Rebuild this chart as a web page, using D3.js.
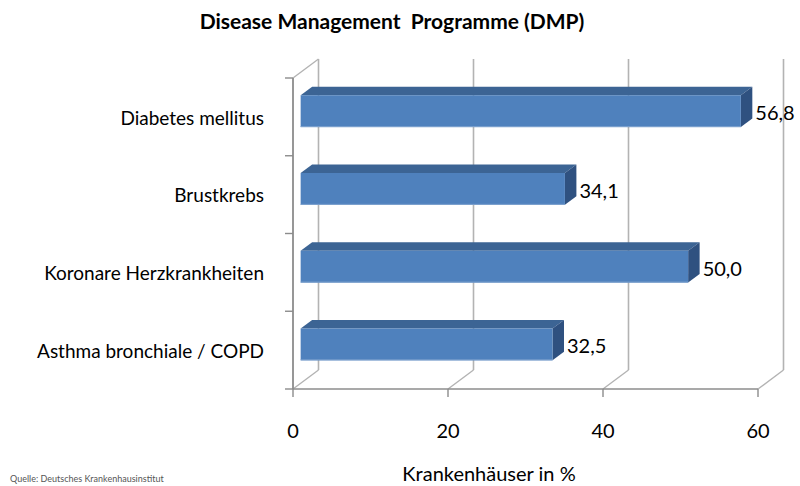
<!DOCTYPE html>
<html>
<head>
<meta charset="utf-8">
<script src="https://cdn.jsdelivr.net/npm/d3@7"></script>
<style>
  html, body { margin: 0; padding: 0; background: #fff; }
  #chart { width: 800px; height: 486px; }
</style>
</head>
<body>
<div id="chart"></div>
<script>
const categories = ["Diabetes mellitus", "Brustkrebs", "Koronare Herzkrankheiten", "Asthma bronchiale / COPD"];
const values = [56.8, 34.1, 50.0, 32.5];
const valueLabels = ["56,8", "34,1", "50,0", "32,5"];
const xTicks = [0, 20, 40, 60];

const width = 800, height = 486;
const font = "Lato, 'Open Sans', sans-serif";

const colors = {
  front: "#4f81bd",
  top: "#3c6494",
  side: "#2f5180",
  grid: "#b3b3b3",
  axis: "#8c8c8c",
  text: "#000"
};

// 3d depth vector (back wall offset)
const dx = 25.5, dy = -19;
const dA = 0.3, dB = 0.75; // bar depth from..to

const svg = d3.select("#chart").append("svg")
  .attr("width", width)
  .attr("height", height)
  .style("font-family", font);

const x = d3.scaleLinear().domain([0, 60]).range([293, 758]);
const y = d3.scaleBand().domain(categories).range([78, 389]).paddingInner(0.59).paddingOuter(0.295);
const yAxisBand = d3.scaleBand().domain(categories).range([78, 389]);

const y0 = 389, y1 = 78;

// title
svg.append("text")
  .attr("x", 392).attr("y", 29)
  .attr("text-anchor", "middle")
  .attr("font-weight", 700)
  .attr("font-size", 21)
  .style("white-space", "pre")
  .attr("fill", colors.text)
  .text("Disease Management  Programme (DMP)");

// back wall gridlines + floor diagonals
const grid = svg.append("g");
xTicks.forEach(t => {
  grid.append("line")
    .attr("x1", x(t) + dx).attr("x2", x(t) + dx)
    .attr("y1", y0 + dy).attr("y2", y1 + dy)
    .attr("stroke", colors.grid).attr("stroke-width", 1.6);
  grid.append("line")
    .attr("x1", x(t)).attr("y1", y0)
    .attr("x2", x(t) + dx).attr("y2", y0 + dy)
    .attr("stroke", colors.grid).attr("stroke-width", 1.4);
});
// left wall top edge
grid.append("line")
  .attr("x1", x(0)).attr("y1", y1)
  .attr("x2", x(0) + dx).attr("y2", y1 + dy)
  .attr("stroke", colors.grid).attr("stroke-width", 1.4);

// front axes
const axes = svg.append("g");
axes.append("line")
  .attr("x1", x(0)).attr("x2", x(0))
  .attr("y1", y1).attr("y2", y0)
  .attr("stroke", colors.axis).attr("stroke-width", 1.8);
axes.append("line")
  .attr("x1", x(0)).attr("x2", x(60))
  .attr("y1", y0).attr("y2", y0)
  .attr("stroke", colors.axis).attr("stroke-width", 1.6);

const bandEdges = categories.map(c => yAxisBand(c)).concat([y0]);
axes.selectAll("line.ytick").data(bandEdges).join("line")
  .attr("class", "ytick")
  .attr("x1", x(0) - 8).attr("x2", x(0))
  .attr("y1", d => d).attr("y2", d => d)
  .attr("stroke", colors.axis).attr("stroke-width", 1.4);

axes.selectAll("line.xtick").data(xTicks).join("line")
  .attr("class", "xtick")
  .attr("x1", d => x(d)).attr("x2", d => x(d))
  .attr("y1", y0).attr("y2", y0 + 8)
  .attr("stroke", colors.axis).attr("stroke-width", 1.4);

// x tick labels
svg.selectAll("text.xlab").data(xTicks).join("text")
  .attr("class", "xlab")
  .attr("x", d => x(d))
  .attr("y", 438)
  .attr("text-anchor", "middle")
  .attr("font-size", 20)
  .attr("fill", colors.text)
  .text(d => d);

// category labels
svg.selectAll("text.cat").data(categories).join("text")
  .attr("class", "cat")
  .attr("x", 264)
  .attr("y", d => yAxisBand(d) + yAxisBand.bandwidth() / 2 + 1)
  .attr("dy", "0.35em")
  .attr("text-anchor", "end")
  .attr("font-size", 19)
  .attr("fill", colors.text)
  .text(d => d);

// bars
const ox = dA * dx, oy = dA * dy;
const ddx = (dB - dA) * dx, ddy = (dB - dA) * dy;
const data = categories.map((c, i) => ({ c, v: values[i], label: valueLabels[i] }));

const bars = svg.append("g").selectAll("g.bar").data(data).join("g").attr("class", "bar");

bars.each(function(d){
  const g = d3.select(this);
  const xs = x(0) + ox, xe = x(d.v) + ox;
  const yt = y(d.c) + oy, yb = yt + y.bandwidth();
  g.append("polygon")
    .attr("points", [[xs, yt], [xe, yt], [xe + ddx, yt + ddy], [xs + ddx, yt + ddy]].join(" "))
    .attr("fill", colors.top);
  g.append("polygon")
    .attr("points", [[xe, yt], [xe + ddx, yt + ddy], [xe + ddx, yb + ddy], [xe, yb]].join(" "))
    .attr("fill", colors.side);
  g.append("rect")
    .attr("x", xs).attr("y", yt)
    .attr("width", xe - xs).attr("height", yb - yt)
    .attr("fill", colors.front);
  g.append("line")
    .attr("x1", xs).attr("x2", xe)
    .attr("y1", yb - 0.5).attr("y2", yb - 0.5)
    .attr("stroke", "#7fa3cf").attr("stroke-width", 1);
  g.append("text")
    .attr("x", xe + ddx + 3)
    .attr("y", (yt + yb) / 2 + 2)
    .attr("dy", "0.35em")
    .attr("font-size", 20)
    .attr("fill", colors.text)
    .text(d.label);
});

// axis title
svg.append("text")
  .attr("x", 489).attr("y", 481)
  .attr("text-anchor", "middle")
  .attr("font-size", 20)
  .attr("fill", colors.text)
  .text("Krankenhäuser in %");

// source line at the bottom edge
svg.append("text")
  .attr("x", 10).attr("y", 482)
  .attr("font-size", 9)
  .attr("fill", "#555")
  .text("Quelle: Deutsches Krankenhausinstitut");
</script>
</body>
</html>
